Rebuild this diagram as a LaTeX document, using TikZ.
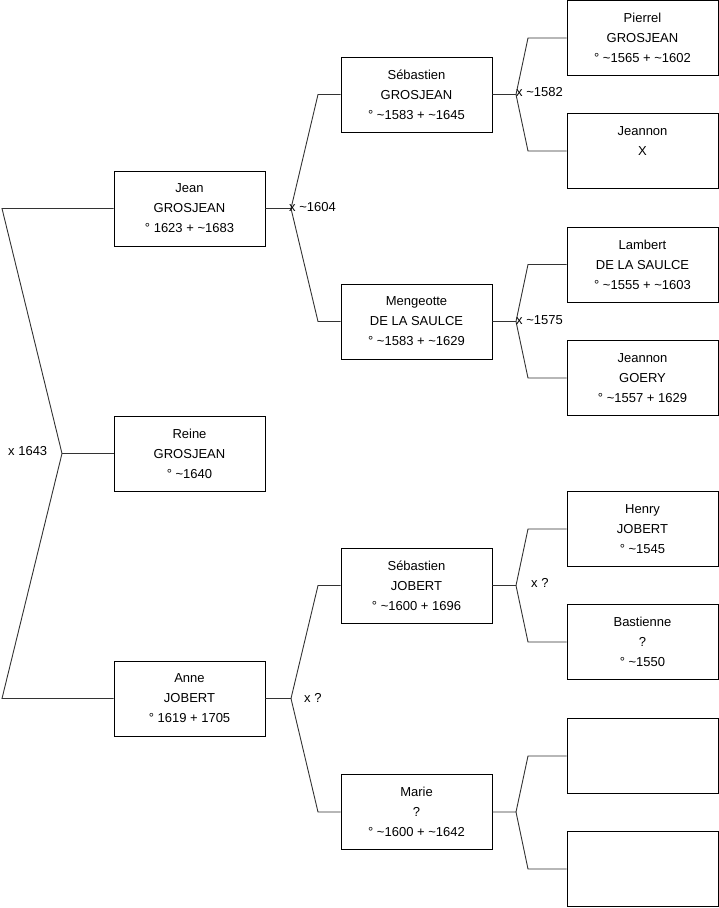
\documentclass[tikz,border=0pt]{standalone}
\usepackage{fontspec}
\setmainfont{Liberation Sans}
\usepackage{tikz}
\usetikzlibrary{positioning}
\newcommand{\ca}{\textasciitilde}

\begin{document}
\begin{tikzpicture}[
  x=1pt, y=-1pt,
  person/.style={draw, line width=0.9pt, minimum width=151pt, minimum height=75pt,
    align=center, inner sep=0pt, font=\fontsize{13}{20}\selectfont},
  link/.style={draw=black!80, line width=0.9pt},
  wed/.style={anchor=west, inner sep=0pt, font=\fontsize{13}{15}\selectfont}
]
\useasboundingbox (0,0) rectangle (719,908);
% generation 1
\node[person] (jean) at (189.5,208.5) {Jean\\GROSJEAN\\° 1623 + \ca1683};
\node[person] (reine) at (189.5,453.5) {Reine\\GROSJEAN\\° \ca1640};
\node[person] (anne) at (189.5,698.5) {Anne\\JOBERT\\° 1619 + 1705};
% generation 2
\node[person] (sebg) at (416.5,94.5) {Sébastien\\GROSJEAN\\° \ca1583 + \ca1645};
\node[person] (meng) at (416.5,321.5) {Mengeotte\\DE LA SAULCE\\° \ca1583 + \ca1629};
\node[person] (sebj) at (416.5,585.5) {Sébastien\\JOBERT\\° \ca1600 + 1696};
\node[person] (marie) at (416.5,812) {Marie\\?\\° \ca1600 + \ca1642};
% generation 3
\node[person] (pierrel) at (642.5,38) {Pierrel\\GROSJEAN\\° \ca1565 + \ca1602};
\node[person] (jeannonx) at (642.5,151) {Jeannon\\X\\\mbox{}};
\node[person] (lambert) at (642.5,264.5) {Lambert\\DE LA SAULCE\\° \ca1555 + \ca1603};
\node[person] (jeannong) at (642.5,378) {Jeannon\\GOERY\\° \ca1557 + 1629};
\node[person] (henry) at (642.5,529) {Henry\\JOBERT\\° \ca1545};
\node[person] (bastienne) at (642.5,642) {Bastienne\\?\\° \ca1550};
\node[person] (unka) at (642.5,756) {};
\node[person] (unkb) at (642.5,869) {};

% brackets
\coordinate (top0) at (2,208.5);
\coordinate (tip0) at (62,453.5);
\coordinate (bot0) at (2,698.5);
\draw[link] (jean.west) -- (top0) -- (tip0) -- (bot0) -- (anne.west);
\draw[link] (tip0) -- (reine.west);
\node[wed] (w0) at (8,451) {x 1643};

\coordinate (tip1) at (291,208.5);
\draw[link] (jean.east) -- (tip1) -- (318,94.5) -- (sebg.west);
\draw[link] (tip1) -- (318,321.5) -- (meng.west);
\node[wed] (w1) at (289,207) {x \ca1604};

\coordinate (tip2) at (291,698.5);
\draw[link] (anne.east) -- (tip2) -- (318,585.5) -- (sebj.west);
\draw[link] (tip2) -- (318,812) -- (marie.west);
\node[wed] (w2) at (304,698) {x ?};

\coordinate (tip3) at (516,94.5);
\draw[link] (sebg.east) -- (tip3) -- (528,38) -- (pierrel.west);
\draw[link] (tip3) -- (528,151) -- (jeannonx.west);
\node[wed] (w3) at (516,92) {x \ca1582};

\coordinate (tip4) at (516,321.5);
\draw[link] (meng.east) -- (tip4) -- (528,264.5) -- (lambert.west);
\draw[link] (tip4) -- (528,378) -- (jeannong.west);
\node[wed] (w4) at (516,320) {x \ca1575};

\coordinate (tip5) at (516,585.5);
\draw[link] (sebj.east) -- (tip5) -- (528,529) -- (henry.west);
\draw[link] (tip5) -- (528,642) -- (bastienne.west);
\node[wed] (w5) at (531,583) {x ?};

\coordinate (tip6) at (516,812);
\draw[link] (marie.east) -- (tip6) -- (528,756) -- (unka.west);
\draw[link] (tip6) -- (528,869) -- (unkb.west);
\end{tikzpicture}
\end{document}
